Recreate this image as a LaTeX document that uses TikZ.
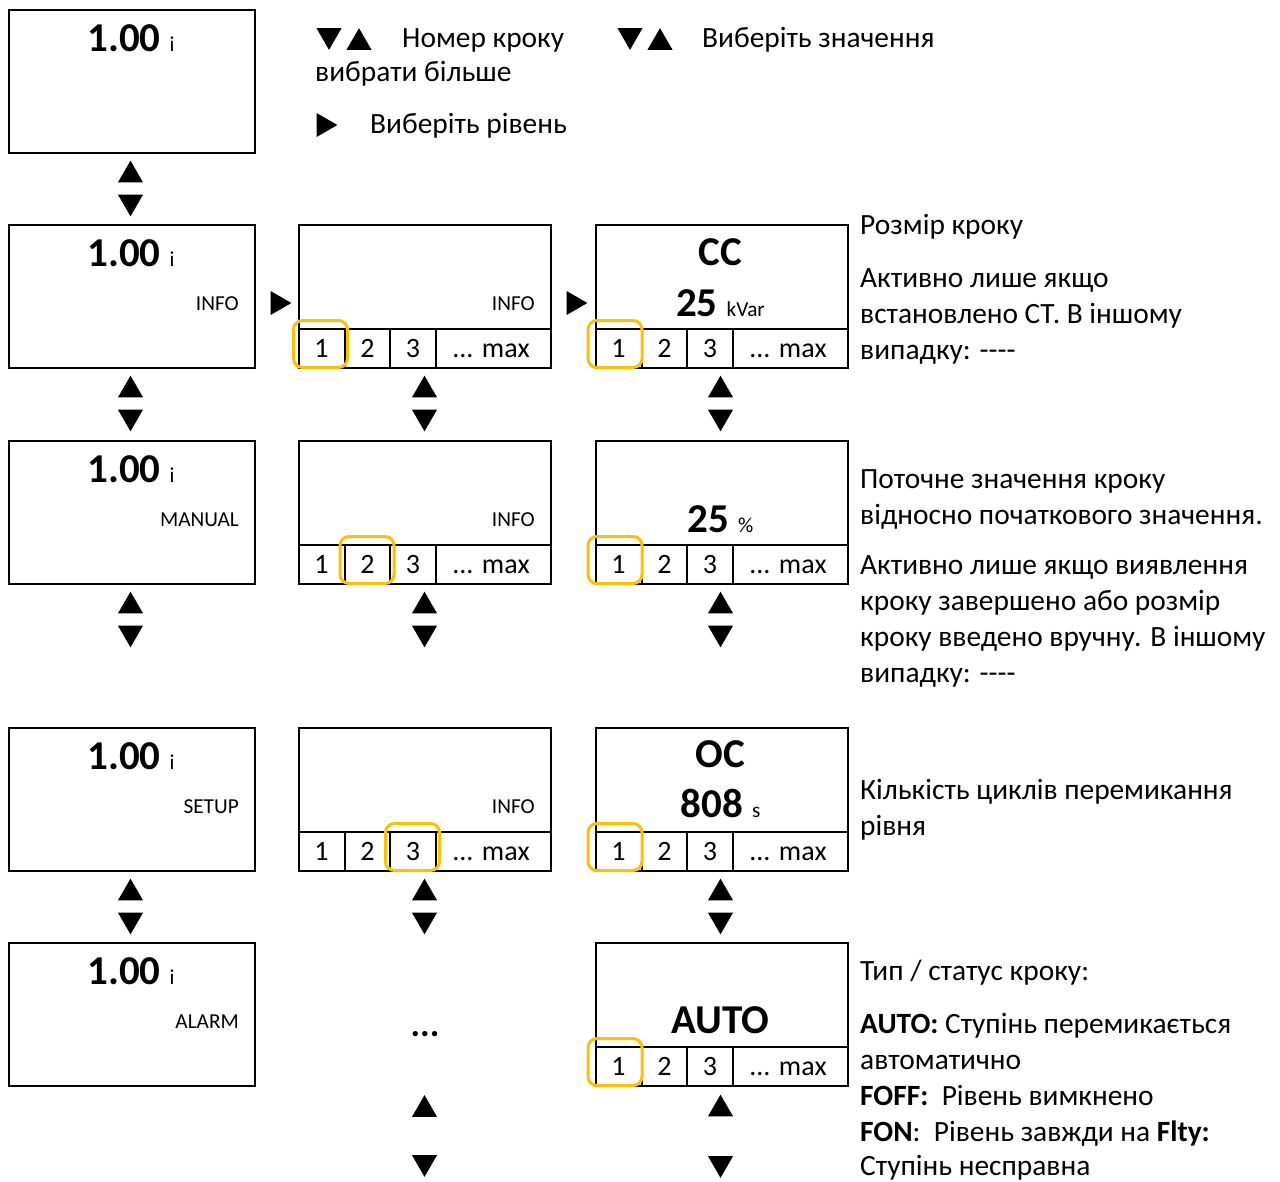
\documentclass[tikz,border=0pt]{standalone}
\usepackage{fontspec}
\setmainfont{Carlito}
\usetikzlibrary{shapes.geometric}
\definecolor{selgold}{HTML}{FFC000}

\newcommand\bodysize{\fontsize{29.4}{35}\selectfont}
\newcommand\stripsize{\fontsize{28}{34}\selectfont}
\newcommand\labelsize{\fontsize{21.3}{26}\selectfont}
\newcommand\valsize{\fontsize{41}{49}\selectfont\bfseries}
\newcommand\unitmark[1]{\hspace{9pt}{\labelsize\mdseries #1}}

\tikzset{
  screen/.style={draw, line width=2pt, inner sep=0pt, anchor=north west, minimum height=143pt},
  narrow/.style={screen, minimum width=246pt},
  wide/.style={screen, minimum width=252pt},
  frame/.style={line width=2pt},
  bigval/.style={font=\valsize, inner sep=0pt, anchor=base},
  modelabel/.style={font=\labelsize, inner sep=0pt, anchor=base east},
  stripnum/.style={font=\stripsize, inner sep=0pt, anchor=base},
  body/.style={font=\bodysize, inner sep=0pt, anchor=base west},
  pickbox/.style={draw=selgold, line width=3pt, rounded corners=9pt, minimum width=54pt, minimum height=47pt, inner sep=0pt},
  tri/.style={regular polygon, regular polygon sides=3, fill=black, draw=none, inner sep=0pt, minimum size=28.9pt},
  triup/.style={tri, yshift=-3.6pt},
  tridown/.style={tri, shape border rotate=180, yshift=3.6pt},
  triright/.style={tri, minimum size=27.7pt, shape border rotate=-90, xshift=-3.5pt},
}

% step selector strip at the foot of a screen: #1 name, #2 left edge, #3 bottom edge
\newcommand\stepstrip[3]{%
  \draw[frame] (#2,#3-38) -- (#2+252,#3-38)
    (#2+47,#3-38) -- (#2+47,#3)
    (#2+92,#3-38) -- (#2+92,#3)
    (#2+138,#3-38) -- (#2+138,#3);
  \node[stripnum] (#1-1) at (#2+23.5,#3-10) {1};
  \node[stripnum] (#1-2) at (#2+69.5,#3-10) {2};
  \node[stripnum] (#1-3) at (#2+115,#3-10) {3};
  \node[stripnum] (#1-max) at (#2+193,#3-10) {... max};
}

% up/down key pair below a screen: #1 name, #2 x centre, #3 bottom of the screen above
\newcommand\updown[3]{%
  \node[triup] (#1-up) at (#2,#3+19.5) {};
  \node[tridown] (#1-dn) at (#2,#3+53.5) {};
}

\begin{document}
\begin{tikzpicture}[x=1pt,y=-1pt]
\fill[white] (0,0) rectangle (1280,1181);
\useasboundingbox (0,0) rectangle (1280,1181);

% key legend
\node[tridown] (lg-dn1) at (329,39) {};
\node[triup] (lg-up1) at (359,39) {};
\node[body] (lg-t1) at (402,47) {Номер кроку};
\node[body] (lg-t2) at (315,81) {вибрати більше};
\node[tridown] (lg-dn2) at (630,39) {};
\node[triup] (lg-up2) at (660,39) {};
\node[body] (lg-t3) at (702,47) {Виберіть значення};
\node[triright] (lg-rt) at (327,125) {};
\node[body] (lg-t4) at (370,133) {Виберіть рівень};

% main menu column
\node[narrow] (home) at (8,9) {};
\node[bigval] (home-val) at (131,51) {1.00\unitmark{i}};
\updown{k1}{130.5}{152}

\node[narrow] (info) at (8,224) {};
\node[bigval] (info-val) at (131,266) {1.00\unitmark{i}};
\node[modelabel] (info-lbl) at (239,310) {INFO};
\updown{k2}{130.5}{367}

\node[narrow] (manual) at (8,440) {};
\node[bigval] (manual-val) at (131,482) {1.00\unitmark{i}};
\node[modelabel] (manual-lbl) at (239,526) {MANUAL};
\updown{k3}{130.5}{583}

\node[narrow] (setup) at (8,727) {};
\node[bigval] (setup-val) at (131,769) {1.00\unitmark{i}};
\node[modelabel] (setup-lbl) at (239,813) {SETUP};
\updown{k4}{130.5}{870}

\node[narrow] (alarm) at (8,942) {};
\node[bigval] (alarm-val) at (131,984) {1.00\unitmark{i}};
\node[modelabel] (alarm-lbl) at (239,1028) {ALARM};

% level keys
\node[triright] (go1) at (281,303) {};
\node[triright] (go2) at (577,303) {};

% step number column
\node[wide] (stB) at (298,224) {};
\node[modelabel] (stB-lbl) at (535,310) {INFO};
\stepstrip{sB}{298}{367}
\node[pickbox] (pickB) at (320.5,344) {};
\updown{k5}{424.5}{367}

\node[wide] (stC) at (298,440) {};
\node[modelabel] (stC-lbl) at (535,526) {INFO};
\stepstrip{sC}{298}{583}
\node[pickbox] (pickC) at (367,560) {};
\updown{k6}{424.5}{583}

\node[wide] (stD) at (298,727) {};
\node[modelabel] (stD-lbl) at (535,813) {INFO};
\stepstrip{sD}{298}{870}
\node[pickbox] (pickD) at (412.5,847) {};
\updown{k7}{424.5}{870}

\node[font=\fontsize{36}{42}\selectfont\bfseries, inner sep=0pt, anchor=base] (more) at (425,1036) {...};
\node[triup] (k8-up) at (424.5,1106) {};
\node[tridown] (k8-dn) at (424.5,1166) {};

% step value column
\node[wide] (vB) at (595,224) {};
\node[bigval] (vB-name) at (720.5,265) {CC};
\node[bigval] (vB-val) at (720.5,316) {25\unitmark{kVar}};
\stepstrip{vsB}{595}{367}
\node[pickbox] (vpickB) at (615,344) {};
\updown{k9}{720.5}{367}

\node[wide] (vC) at (595,440) {};
\node[bigval] (vC-val) at (720.5,532) {25\unitmark{\%}};
\stepstrip{vsC}{595}{583}
\node[pickbox] (vpickC) at (615,560) {};
\updown{k10}{720.5}{583}

\node[wide] (vD) at (595,727) {};
\node[bigval] (vD-name) at (720.5,767) {OC};
\node[bigval] (vD-val) at (720.5,817) {808\unitmark{s}};
\stepstrip{vsD}{595}{870}
\node[pickbox] (vpickD) at (615,847) {};
\updown{k11}{720.5}{870}

\node[wide] (vE) at (595,942) {};
\node[bigval] (vE-val) at (720.5,1033) {AUTO};
\stepstrip{vsE}{595}{1085}
\node[pickbox] (vpickE) at (615,1062) {};
\node[triup] (k12-up) at (720.5,1105.5) {};
\node[tridown] (k12-dn) at (720.5,1167) {};

% descriptions
\node[body] (dB1) at (860,234) {Розмір кроку};
\node[body] (dB2) at (860,287) {Активно лише якщо};
\node[body] (dB3) at (860,323) {встановлено СТ. В іншому};
\node[body] (dB4) at (860,359) {випадку: -{}-{}-{}-};

\node[body] (dC1) at (860,488) {Поточне значення кроку};
\node[body] (dC2) at (860,524) {відносно початкового значення.};
\node[body] (dC3) at (860,574) {Активно лише якщо виявлення};
\node[body] (dC4) at (860,610) {кроку завершено або розмір};
\node[body] (dC5) at (860,646) {кроку введено вручну. В іншому};
\node[body] (dC6) at (860,682) {випадку: -{}-{}-{}-};

\node[body] (dD1) at (860,799) {Кількість циклів перемикання};
\node[body] (dD2) at (860,835) {рівня};

\node[body] (dE1) at (860,980) {Тип / статус кроку:};
\node[body] (dE2) at (860,1033) {\textbf{AUTO:} Ступінь перемикається};
\node[body] (dE3) at (860,1069) {автоматично};
\node[body] (dE4) at (860,1105) {\textbf{FOFF:}\ \ Рівень вимкнено};
\node[body] (dE5) at (860,1141) {\textbf{FON}:\ \ Рівень завжди на \textbf{Flty:}};
\node[body] (dE6) at (860,1175) {Ступінь несправна};
\end{tikzpicture}
\end{document}
